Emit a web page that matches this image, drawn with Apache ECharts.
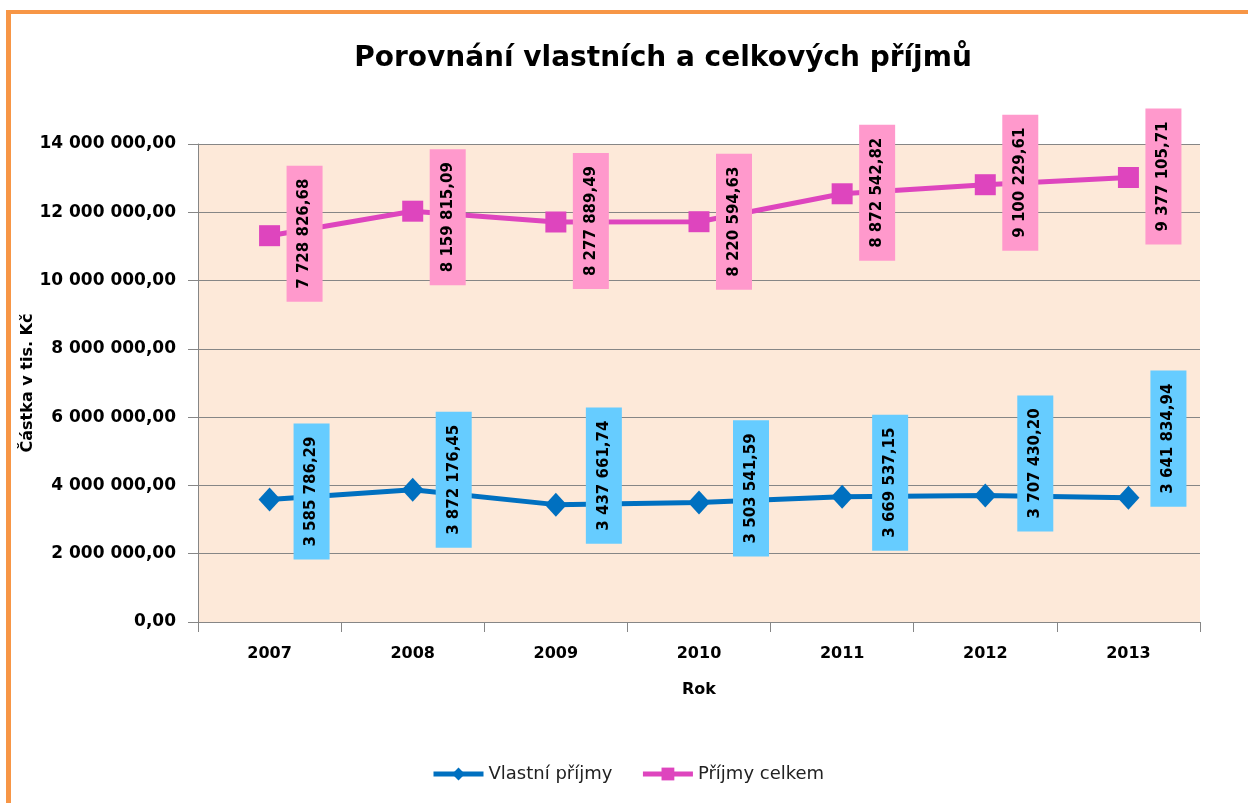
<!DOCTYPE html>
<html>
<head>
<meta charset="utf-8">
<script src="https://cdn.jsdelivr.net/npm/echarts@6/dist/echarts.min.js"></script>
<style>
html,body{margin:0;padding:0;background:#fff;}
#chart{position:absolute;left:0;top:0;width:1248px;height:803px;}
#frame{position:absolute;left:6px;top:10px;width:1400px;height:1000px;border-top:4px solid #F79646;border-left:5px solid #F79646;pointer-events:none;}
</style>
</head>
<body>
<div id="chart"></div>
<div id="frame"></div>
<script>
// ---- data ----
const years = ['2007','2008','2009','2010','2011','2012','2013'];
const vlastniPrijmy = [3585786.29, 3872176.45, 3437661.74, 3503541.59, 3669537.15, 3707430.20, 3641834.94];
const prijmyCelkem = [7728826.68, 8159815.09, 8277889.49, 8220594.63, 8872542.82, 9100229.61, 9377105.71];
const yTicks = [0, 2000000, 4000000, 6000000, 8000000, 10000000, 12000000, 14000000];

// ---- label layout (screen pixel offsets of the data labels, not of the marks) ----
const blueLabelDx = [42, 41, 48, 52, 48, 50, 40];
const blueLabelDy = [-8, -10, -29, -14, -14, -32, -59];
const pinkLabelDx = 35;
const pinkLabelDy = [-2, 6, -1, 0, -1, -2, -1];

function fmt(v) {
  const parts = Number(v).toFixed(2).split('.');
  parts[0] = parts[0].replace(/\B(?=(\d{3})+(?!\d))/g, ' ');
  return parts[0] + ',' + parts[1];
}
// label is rotated 90deg, so its offset lives in the rotated frame
function rotOffset(dx, dy) { return [-dy, dx]; }

const FONT = "'DejaVu Sans', sans-serif";
const chart = echarts.init(document.getElementById('chart'), null, {renderer: 'canvas'});

const labelBase = {
  show: true,
  position: 'inside',
  rotate: 90,
  align: 'center',
  verticalAlign: 'middle',
  color: '#000',
  fontFamily: FONT,
  fontWeight: 'bold',
  fontSize: 15,
  lineHeight: 20,
  padding: [8, 13],
  formatter: p => fmt(p.value)
};

chart.setOption({
  animation: false,
  backgroundColor: '#fff',
  title: {
    text: 'Porovnání vlastních a celkových příjmů',
    left: 658,
    textAlign: 'center',
    top: 40,
    textStyle: {fontFamily: FONT, fontWeight: 'bold', fontSize: 28, color: '#000'}
  },
  legend: {
    left: 426,
    top: 760,
    itemWidth: 50,
    itemHeight: 16,
    itemGap: 28,
    lineStyle: {width: 5},
    textStyle: {fontFamily: FONT, fontSize: 18, color: '#222'},
    data: ['Vlastní příjmy', 'Příjmy celkem']
  },
  grid: {
    left: 198, right: 48, top: 144, bottom: 181,
    show: true, backgroundColor: '#FDE9D9', borderWidth: 0
  },
  xAxis: {
    type: 'category',
    data: years,
    boundaryGap: true,
    name: 'Rok',
    nameLocation: 'middle',
    nameGap: 60,
    nameTextStyle: {fontFamily: FONT, fontWeight: 'bold', fontSize: 16, color: '#000'},
    axisLine: {lineStyle: {color: '#868686', width: 1}},
    axisTick: {show: true, length: 10, lineStyle: {color: '#868686'}},
    axisLabel: {fontFamily: FONT, fontWeight: 'bold', fontSize: 16, color: '#000', margin: 24},
    splitLine: {show: false}
  },
  yAxis: {
    type: 'value',
    min: yTicks[0],
    max: yTicks[yTicks.length - 1],
    interval: yTicks[1] - yTicks[0],
    name: 'Částka v tis. Kč',
    nameLocation: 'middle',
    nameGap: 162,
    nameMoveOverlap: false,
    nameTextStyle: {fontFamily: FONT, fontWeight: 'bold', fontSize: 16, color: '#000'},
    axisLine: {show: true, lineStyle: {color: '#868686', width: 1}},
    axisTick: {show: true, length: 10, lineStyle: {color: '#868686'}},
    axisLabel: {fontFamily: FONT, fontWeight: 'bold', fontSize: 17, color: '#000', margin: 22, formatter: v => fmt(v)},
    splitLine: {show: true, lineStyle: {color: '#868686', width: 1}}
  },
  series: [
    {
      name: 'Vlastní příjmy',
      type: 'line',
      stack: 'total',
      data: vlastniPrijmy.map((v, i) => ({
        value: v,
        label: {offset: rotOffset(blueLabelDx[i], blueLabelDy[i])}
      })),
      symbol: 'diamond',
      symbolSize: [22, 24],
      itemStyle: {color: '#0070C0'},
      lineStyle: {color: '#0070C0', width: 5},
      label: Object.assign({}, labelBase, {backgroundColor: '#66CCFF'}),
      z: 3
    },
    {
      name: 'Příjmy celkem',
      type: 'line',
      stack: 'total',
      data: prijmyCelkem.map((v, i) => ({
        value: v,
        label: {offset: rotOffset(pinkLabelDx, pinkLabelDy[i])}
      })),
      symbol: 'rect',
      symbolSize: 21,
      itemStyle: {color: '#DE45BE'},
      lineStyle: {color: '#DE45BE', width: 5},
      label: Object.assign({}, labelBase, {backgroundColor: '#FF99CC'}),
      z: 3
    }
  ]
});
</script>
</body>
</html>
